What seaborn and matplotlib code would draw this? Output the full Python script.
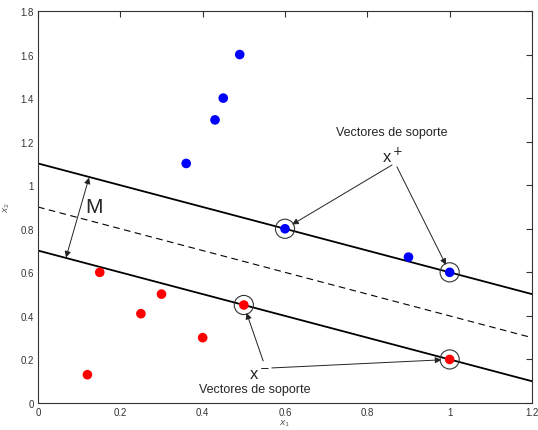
import numpy as np
import pandas as pd
import matplotlib
matplotlib.use("Agg")
import matplotlib.pyplot as plt
import seaborn as sns

# Data points of the two classes
blue_x = [0.36, 0.43, 0.45, 0.49, 0.60, 0.90, 1.00]
blue_y = [1.10, 1.30, 1.40, 1.60, 0.80, 0.67, 0.60]
red_x = [0.12, 0.15, 0.25, 0.30, 0.40, 0.50, 1.00]
red_y = [0.13, 0.60, 0.41, 0.50, 0.30, 0.45, 0.20]

# Support vectors (circled)
sv_x = [0.6, 1.0, 0.5, 1.0]
sv_y = [0.8, 0.6, 0.45, 0.2]

# Margin lines: y = slope * x + intercept
slope = -0.5
intercepts = [1.1, 0.9, 0.7]
line_styles = ["-", "--", "-"]

xticks = [0, 0.2, 0.4, 0.6, 0.8, 1.0, 1.2]
xtick_labels = ["0", "0.2", "0.4", "0.6", "0.8", "1", "1.2"]
yticks = [0, 0.2, 0.4, 0.6, 0.8, 1.0, 1.2, 1.4, 1.6, 1.8]
ytick_labels = ["0", "0.2", "0.4", "0.6", "0.8", "1", "1.2", "1.4", "1.6", "1.8"]

sns.set_style("white")
plt.rcParams["font.family"] = ["Liberation Sans", "DejaVu Sans"]

fig = plt.figure(figsize=(5.38, 4.31), dpi=100)
ax = fig.add_axes([38 / 538, 27 / 431, 494 / 538, 392 / 431])

xs = np.array([0, 1.2])
for b, ls in zip(intercepts, line_styles):
    if ls == "--":
        ax.plot(xs, slope * xs + b, color="black", lw=0.8, dashes=(6, 4))
    else:
        ax.plot(xs, slope * xs + b, color="black", lw=1.3)

df = pd.DataFrame({
    "x": blue_x + red_x,
    "y": blue_y + red_y,
    "clase": ["pos"] * len(blue_x) + ["neg"] * len(red_x),
})
sns.scatterplot(data=df, x="x", y="y", hue="clase",
                palette={"pos": "blue", "neg": "red"},
                s=48, edgecolor="none", legend=False, ax=ax, zorder=3)
ax.scatter(sv_x, sv_y, s=190, facecolors="none", edgecolors="#333333",
           linewidths=0.8, zorder=4)

arrow = dict(arrowstyle="-|>", color="#222222", lw=0.7, mutation_scale=9,
             shrinkA=0, shrinkB=6)

# x+ annotation
ax.text(0.86, 1.245, "Vectores de soporte", fontsize=9, ha="center",
        va="center")
ax.text(0.862, 1.14, "x$^+$", fontsize=12, ha="center", va="center")
ax.annotate("", xy=(0.6, 0.8), xytext=(0.860, 1.093), arrowprops=arrow)
ax.annotate("", xy=(1.0, 0.6), xytext=(0.872, 1.084), arrowprops=arrow)

# x- annotation
ax.text(0.539, 0.135, "x$^-$", fontsize=12, ha="center", va="center")
ax.text(0.527, 0.064, "Vectores de soporte", fontsize=9, ha="center",
        va="center")
ax.annotate("", xy=(0.5, 0.45), xytext=(0.547, 0.193), arrowprops=arrow)
ax.annotate("", xy=(1.0, 0.2), xytext=(0.568, 0.161), arrowprops=arrow)

# Margin M
ax.annotate("", xy=(0.124, 1.035), xytext=(0.068, 0.668),
            arrowprops=dict(arrowstyle="<|-|>", color="#222222", lw=0.7,
                            mutation_scale=9, shrinkA=0, shrinkB=0))
ax.text(0.135, 0.9, "M", fontsize=15, ha="center", va="center")

ax.set_xlim(0, 1.2)
ax.set_ylim(0, 1.8)
ax.set_xticks(xticks)
ax.set_xticklabels(xtick_labels)
ax.set_yticks(yticks)
ax.set_yticklabels(ytick_labels)
ax.tick_params(direction="in", length=4, width=0.8, top=True, right=True,
               labelsize=7, colors="#333333", pad=3)
for sp in ax.spines.values():
    sp.set_visible(True)
    sp.set_color("#333333")
    sp.set_linewidth(0.8)
ax.set_xlabel("$x_1$", fontsize=6.5, color="#555555", va="top")
ax.xaxis.set_label_coords(0.5, -0.036)
ax.set_ylabel("$x_2$", fontsize=6.5, color="#555555")
ax.yaxis.set_label_coords(-0.052, 0.5)

fig.savefig("out.png", dpi=100)
